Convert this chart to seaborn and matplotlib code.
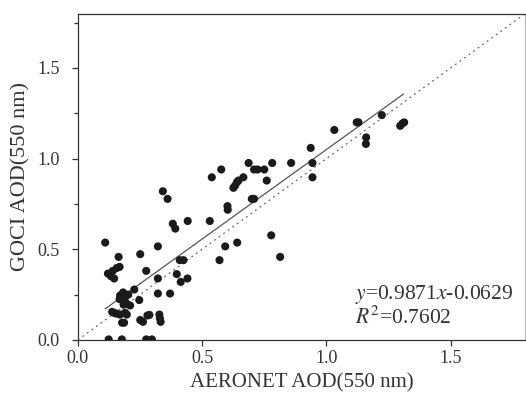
import matplotlib
matplotlib.use("Agg")
import matplotlib.pyplot as plt
import numpy as np
import seaborn as sns
from matplotlib.ticker import MultipleLocator

# ──── data ────
aeronet = [
    0.110, 0.164, 0.121, 0.133, 0.146, 0.157, 0.168, 0.141,
    0.251, 0.322, 0.275, 0.227,
    0.170, 0.182, 0.190, 0.203, 0.197, 0.210, 0.184, 0.168,
    0.247, 0.322, 0.322, 0.371,
    0.138, 0.148, 0.156, 0.170, 0.190, 0.197,
    0.178, 0.186,
    0.251, 0.262, 0.280, 0.288,
    0.328, 0.330, 0.333,
    0.124, 0.177, 0.275, 0.298,
    0.342, 0.361, 0.382, 0.392, 0.442,
    0.398, 0.414, 0.441, 0.410, 0.425,
    0.539, 0.577, 0.531, 0.570, 0.593,
    0.602, 0.603, 0.626, 0.633, 0.640, 0.646, 0.641,
    0.666, 0.687, 0.700, 0.709, 0.709, 0.723, 0.750, 0.760,
    0.778, 0.782, 0.814, 0.858,
    0.937, 0.944, 0.944, 1.032, 1.122, 1.129, 1.160, 1.159,
    1.223, 1.297, 1.306, 1.313,
]
goci = [
    0.537, 0.458, 0.366, 0.352, 0.339, 0.397, 0.403, 0.381,
    0.473, 0.516, 0.381, 0.278,
    0.245, 0.262, 0.235, 0.250, 0.200, 0.190, 0.195, 0.225,
    0.220, 0.339, 0.256, 0.256,
    0.155, 0.148, 0.145, 0.140, 0.150, 0.140,
    0.095, 0.095,
    0.110, 0.100, 0.135, 0.138,
    0.140, 0.120, 0.100,
    0.003, 0.003, 0.003, 0.003,
    0.820, 0.778, 0.641, 0.614, 0.656,
    0.363, 0.320, 0.339, 0.440, 0.440,
    0.897, 0.940, 0.656, 0.440, 0.516,
    0.738, 0.718, 0.839, 0.852, 0.870, 0.879, 0.537,
    0.897, 0.976, 0.778, 0.778, 0.940, 0.940, 0.940, 0.879,
    0.577, 0.976, 0.458, 0.976,
    1.059, 0.976, 0.897, 1.158, 1.200, 1.200, 1.117, 1.081,
    1.240, 1.181, 1.194, 1.200,
]

fit_slope = 0.9871
fit_intercept = 0.0629     # drawn line sits above 1:1 in the figure
fit_range = [0.11, 1.31]
one_to_one = [0.0, 1.8]
ticks = [0.0, 0.5, 1.0, 1.5]

# ──── style ────
sns.set_theme(style="ticks")
plt.rcParams["font.family"] = ["Liberation Serif", "DejaVu Serif"]
plt.rcParams["mathtext.fontset"] = "stix"

fig, ax = plt.subplots(figsize=(5.26, 3.99), dpi=100)
fig.subplots_adjust(left=0.148, right=0.9985, bottom=0.148, top=0.966)

sns.lineplot(x=one_to_one, y=one_to_one, ax=ax, color="#666666",
             linestyle=(0, (1.5, 3)), linewidth=0.9)
fx = np.array(fit_range)
sns.lineplot(x=fx, y=fit_slope * fx + fit_intercept, ax=ax,
             color="#555555", linewidth=0.9)
sns.scatterplot(x=aeronet, y=goci, ax=ax, color="#1a1a1a", s=34,
                edgecolor="none", zorder=3)

ax.set_xlim(0, 1.8)
ax.set_ylim(0, 1.8)
ax.set_xticks(ticks)
ax.set_yticks(ticks)
ax.set_xticklabels([f"{t:.1f}" for t in ticks])
ax.set_yticklabels([f"{t:.1f}" for t in ticks])
ax.yaxis.set_minor_locator(MultipleLocator(0.25))
ax.tick_params(axis="both", which="major", labelsize=13, length=4,
               width=0.9, color="#333333", labelcolor="#333333")
ax.tick_params(axis="x", which="major", pad=3)
ax.tick_params(axis="y", which="major", pad=9)
ax.tick_params(axis="y", which="minor", length=3, width=0.9, color="#333333")
for sp in ax.spines.values():
    sp.set_color("#333333")
    sp.set_linewidth(0.9)
ax.spines["right"].set_color("#bbbbbb")

ax.set_xlabel("AERONET AOD(550 nm)", fontsize=15, color="#333333", labelpad=5)
ax.set_ylabel("GOCI AOD(550 nm)", fontsize=16, color="#333333", labelpad=5)

ax.text(1.115, 0.225, r"$y$=0.9871$x$-0.0629", fontsize=15.5, color="#333333")
ax.text(1.115, 0.09, r"$R^2$=0.7602", fontsize=15.5, color="#333333")

fig.savefig("out.png", dpi=100)
plt.close(fig)
